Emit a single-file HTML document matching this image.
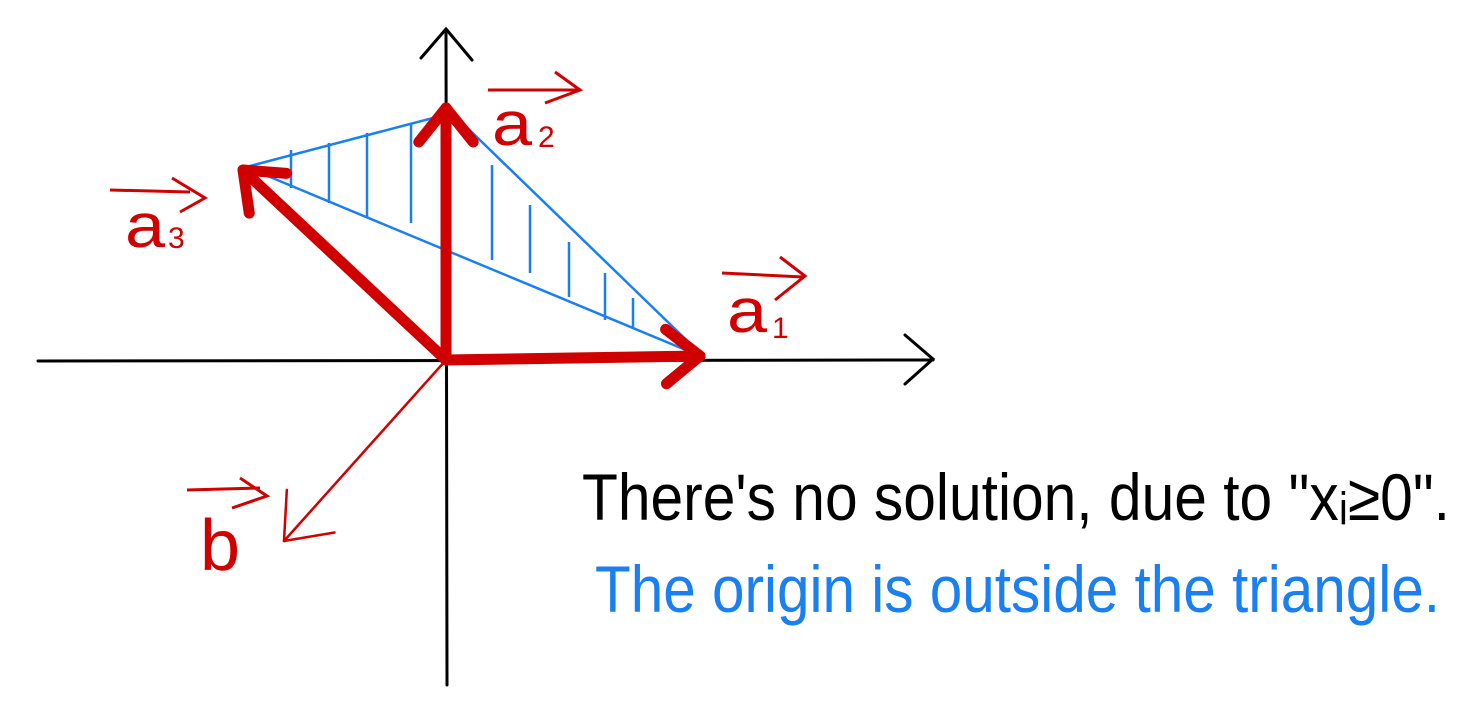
<!DOCTYPE html>
<html><head><meta charset="utf-8"><style>
html,body{margin:0;padding:0;background:#fff;}
svg{display:block;}
text{font-family:"Liberation Sans",sans-serif;}
</style></head>
<body>
<svg id="chart" width="1475" height="718" viewBox="0 0 1475 718">
<g stroke="#000" stroke-width="3" fill="none" stroke-linecap="round">
  <line x1="38" y1="361" x2="933" y2="360"/>
  <polyline points="905,335 933,359 905,384"/>
  <line x1="446" y1="30" x2="447" y2="685"/>
  <polyline points="421,58 446,29 472,60"/>
</g>
<g id="tri"></g>
<g id="vecs"></g>
<g fill="#d00000">
  <text x="492" y="145" font-size="62" textLength="40" lengthAdjust="spacingAndGlyphs">a</text>
  <text x="538" y="147" font-size="30">2</text>
  <path d="M488,90 L578,90 M555,72 L580,90 L545,103" stroke="#d00000" stroke-width="3" fill="none"/>
  <text x="727" y="332" font-size="62" textLength="40" lengthAdjust="spacingAndGlyphs">a</text>
  <text x="772" y="338" font-size="30">1</text>
  <path d="M722,273 L803,277 M780,257 L805,276 L775,300" stroke="#d00000" stroke-width="3" fill="none"/>
  <text x="125" y="247" font-size="62" textLength="40" lengthAdjust="spacingAndGlyphs">a</text>
  <text x="168" y="248" font-size="30">3</text>
  <path d="M110,190 L190,192 M172,178 L205,198 L180,212" stroke="#d00000" stroke-width="3" fill="none"/>
  <text x="200" y="570" font-size="72">b</text>
  <path d="M187,490 L260,488 M240,478 L267,496 L232,508" stroke="#d00000" stroke-width="3" fill="none"/>
</g>
<text x="582" y="520" font-size="66" fill="#000" textLength="868" lengthAdjust="spacingAndGlyphs">There's no solution, due to "xᵢ≥0".</text>
<text x="595" y="612" font-size="66" fill="#1a7ff0" textLength="845" lengthAdjust="spacingAndGlyphs">The origin is outside the triangle.</text>
<script>
const vertexNames = ['a1','a2','a3'];
const vertexX = [705, 452, 246];
const vertexY = [358, 113, 167];
const tipX = [700, 446, 243];
const tipY = [356, 108, 170];
const hatchX = [291, 329, 367, 411, 492, 530, 569, 605, 633];
const hatchTop = [150, 143, 133, 124, 165, 205, 242, 273, 298];
const hatchBottom = [188, 203, 217, 223, 260, 273, 297, 320, 328];
const originX = 446, originY = 360;
const bX = 284, bY = 541;
const NS = 'http://www.w3.org/2000/svg';
function mk(tag, attrs, parent){const e=document.createElementNS(NS,tag);for(const k in attrs)e.setAttribute(k,attrs[k]);parent.appendChild(e);return e;}
const tri = document.getElementById('tri');
const poly = mk('polygon',{points:vertexX.map((x,i)=>x+','+vertexY[i]).join(' '),fill:'none',stroke:'#1a7ff0','stroke-width':2.5},tri);


hatchX.forEach((x,i)=>{
  const l = mk('line',{x1:x,y1:hatchTop[i],x2:x,y2:hatchBottom[i],stroke:'#1a7ff0','stroke-width':2.5},tri);
  
  
});
const vecs = document.getElementById('vecs');
function arrow(x2,y2,w,head,name){
  const dx=x2-originX, dy=y2-originY, L=Math.hypot(dx,dy), ux=dx/L, uy=dy/L;
  const g = mk('g',{},vecs);
  
  
  mk('line',{x1:originX,y1:originY,x2:x2,y2:y2,stroke:'#d00000','stroke-width':w,'stroke-linecap':'round'},g);
  const bx=x2-ux*head, by=y2-uy*head, px=-uy*head*0.8, py=ux*head*0.8;
  mk('polyline',{points:`${bx+px},${by+py} ${x2},${y2} ${bx-px},${by-py}`,fill:'none',stroke:'#d00000','stroke-width':w,'stroke-linecap':'round','stroke-linejoin':'round'},g);
}
vertexNames.forEach((n,i)=>arrow(tipX[i], tipY[i], 11, 34, 'vector-'+n));
arrow(bX,bY,2.5,40,'vector-b');
</script>
</svg>
</body></html>
